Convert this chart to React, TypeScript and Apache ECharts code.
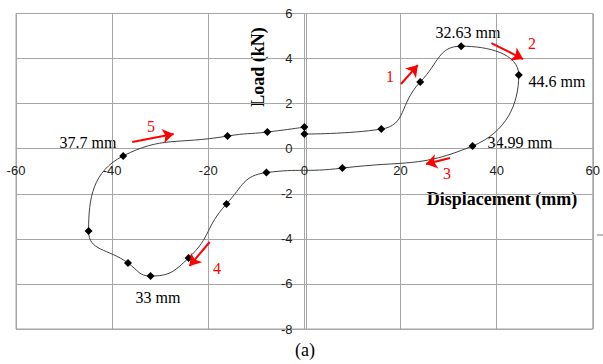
import React, { useEffect, useRef } from "react";
import * as echarts from "echarts";

const displacement = [0, 16.0, 24.1, 32.63, 44.6, 34.99, 7.9, -7.9, -16.2, -24.1, -32.0, -36.7, -44.9, -37.7, -16.0, -7.7, 0];
const load = [0.65, 0.87, 2.96, 4.55, 3.27, 0.12, -0.86, -1.06, -2.45, -4.85, -5.65, -5.07, -3.65, -0.32, 0.56, 0.74, 0.96];

const xTicks = { min: -60, max: 60, interval: 20 };
const yTicks = { min: -8, max: 6, interval: 2 };

// direction arrows (data coordinates: from -> to)
const arrowFrom = [[20.1, 2.87], [38.9, 4.69], [30.3, -0.41], [-19.7, -4.14], [-35.8, 0.3]];
const arrowTo = [[23.6, 3.71], [45.5, 3.98], [25.3, -0.68], [-23.9, -5.2], [-27.2, 0.65]];

const peakLabels = ["32.63 mm", "44.6 mm", "34.99 mm", "37.7 mm", "33 mm"];
const stepLabels = ["1", "2", "3", "4", "5"];

export default function App() {
  const ref = useRef<HTMLDivElement>(null);
  useEffect(() => {
    if (!ref.current) return;
    const chart = echarts.init(ref.current, undefined, { renderer: "svg" });
    const serif = "'Liberation Serif', 'DejaVu Serif', serif";
    const sans = "'Liberation Sans', Arial, sans-serif";
    const grey = "#a6a6a6";
    const data = displacement.map((d, i) => [d, load[i]]);
    const W = 603, H = 364;
    const g = { left: 16, right: 6, top: 13.5, bottom: 35 };
    const gw = W - g.left - g.right;
    const gh = H - g.top - g.bottom;
    // place the axes where the other axis is zero
    const xAxisOffset = -(gh * (0 - yTicks.min)) / (yTicks.max - yTicks.min);
    const yAxisOffset = -(gw * (0 - xTicks.min)) / (xTicks.max - xTicks.min);
    const peakPos = [
      [468, 32], [557, 81], [520, 142], [88, 142], [158, 297],
    ];
    const stepPos = [[390, 76], [532, 43], [447, 173], [217, 268], [151, 126]];
    chart.setOption({
      animation: false,
      grid: { ...g, show: true, borderColor: grey, borderWidth: 1 },
      xAxis: {
        type: "value",
        ...xTicks,
        position: "bottom",
        offset: xAxisOffset,
        axisLine: { onZero: false, lineStyle: { color: grey } },
        axisTick: { show: false },
        axisLabel: { color: "#222", fontFamily: sans, fontSize: 13, margin: 15 },
        splitLine: { show: true, lineStyle: { color: grey } },
      },
      yAxis: {
        type: "value",
        ...yTicks,
        position: "left",
        offset: yAxisOffset,
        axisLine: { onZero: false, lineStyle: { color: grey } },
        axisTick: { show: false },
        axisLabel: { color: "#222", fontFamily: sans, fontSize: 13, margin: 14 },
        splitLine: { show: true, lineStyle: { color: grey } },
      },
      series: [
        {
          type: "line",
          data,
          smooth: 0.5,
          symbol: "diamond",
          symbolSize: 8,
          itemStyle: { color: "#000" },
          lineStyle: { color: "#404040", width: 1 },
          markLine: {
            silent: true,
            symbol: ["none", "arrow"],
            symbolSize: 11,
            label: { show: false },
            lineStyle: { color: "#ff0000", width: 2, type: "solid" },
            data: arrowFrom.map((f, i) => [{ coord: f }, { coord: arrowTo[i] }]),
          },
        },
      ],
      graphic: [
        {
          type: "text",
          x: 258,
          y: 67,
          rotation: Math.PI / 2,
          style: {
            text: "Load (kN)",
            font: `bold 18px ${serif}`,
            fill: "#000",
            align: "center",
            verticalAlign: "middle",
          },
        },
        {
          type: "text",
          x: 502,
          y: 199,
          style: {
            text: "Displacement (mm)",
            font: `bold 18px ${serif}`,
            fill: "#000",
            align: "center",
            verticalAlign: "middle",
          },
        },
        ...peakLabels.map((t, i) => ({
          type: "text",
          x: peakPos[i][0],
          y: peakPos[i][1],
          style: { text: t, font: `16px ${serif}`, fill: "#000", align: "center", verticalAlign: "middle" },
        })),
        ...stepLabels.map((t, i) => ({
          type: "text",
          x: stepPos[i][0],
          y: stepPos[i][1],
          style: { text: t, font: `16px ${serif}`, fill: "#ff0000", align: "center", verticalAlign: "middle" },
        })),
        {
          type: "line",
          shape: { x1: 597, y1: 235, x2: 603, y2: 235 },
          style: { stroke: "#777", lineWidth: 1 },
        },
        {
          type: "text",
          x: 305,
          y: 350,
          style: { text: "(a)", font: `18px ${serif}`, fill: "#000", align: "center", verticalAlign: "middle" },
        },
      ],
    });
    return () => chart.dispose();
  }, []);
  return (
    <div
      ref={ref}
      style={{ position: "fixed", left: 0, top: 0, width: 603, height: 364, background: "#fff" }}
    />
  );
}
